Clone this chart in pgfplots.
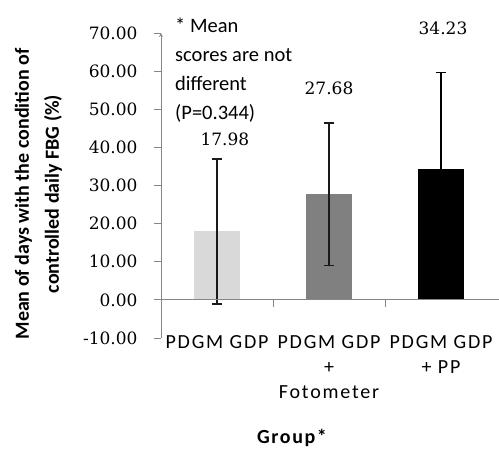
\documentclass[border=0pt]{standalone}
\usepackage{fontspec}
\setmainfont{Carlito}
\newfontfamily\numfont{DejaVu Serif}
\usepackage{pgfplots}
\pgfplotsset{compat=1.18}
\definecolor{axgray}{HTML}{868686}
\definecolor{bar1}{HTML}{D9D9D9}
\definecolor{bar2}{HTML}{808080}
\definecolor{errc}{HTML}{1A1A1A}
\begin{document}
\begin{tikzpicture}
\useasboundingbox (-161pt,-112pt) rectangle (338pt,338pt);
\begin{axis}[
  at={(0,0)}, anchor=south west,
  scale only axis, width=336pt, height=305pt,
  xmin=-0.5, xmax=2.5, ymin=-10, ymax=70,
  clip=false,
  axis lines=left,
  axis line style={axgray, line width=0.8pt},
  x axis line style={draw=none},
  xtick={0,1,2},
  xticklabels={{PDGM GDP},{PDGM GDP\\+\\Fotometer},{PDGM GDP\\+ PP}},
  xtick style={draw=none},
  xticklabel style={align=center, font=\fontsize{20}{25}\selectfont\addfontfeature{LetterSpace=9}, anchor=north, yshift=13pt},
  ytick={-10,0,10,20,30,40,50,60,70},
  tick align=outside,
  major tick length=7pt,
  ytick style={axgray, line width=0.8pt},
  yticklabel style={font=\numfont\fontsize{17}{20}\selectfont, /pgf/number format/fixed, /pgf/number format/fixed zerofill, /pgf/number format/precision=2, xshift=-13pt},
  /pgf/number format/assume math mode=true,
  xlabel={Group*},
  xlabel style={at={(rel axis cs:0.39,0)}, anchor=center, yshift=-100pt, font=\bfseries\fontsize{20}{24}\selectfont\addfontfeature{LetterSpace=8}},
  ylabel={Mean of days with the condition of\\controlled daily FBG (\%)},
  ylabel style={at={(rel axis cs:-0.365,0.472)}, anchor=center, align=center, font=\bfseries\fontsize{20}{30}\selectfont},
  ybar, bar width=46pt, bar shift=0pt,
  error bars/error bar style={errc, line width=1.5pt},
  error bars/error mark options={rotate=90, mark size=5pt, errc, line width=1.5pt},
]
\addplot[fill=bar1, draw=none, error bars/.cd, y dir=both, y explicit] coordinates {(0,17.98) +- (0,19.0)};
\addplot[fill=bar2, draw=none, error bars/.cd, y dir=both, y explicit] coordinates {(1,27.68) +- (0,18.7)};
\addplot[fill=black, draw=none, error bars/.cd, y dir=both, y explicit, error bar style={black, line width=1.5pt}, error mark options={rotate=90, mark size=5pt, black, line width=1.5pt}] coordinates {(2,34.23) +- (0,25.4)};
\draw[axgray, line width=0.8pt] (axis cs:-0.5,0) -- (axis cs:2.53,0);
\draw[axgray, line width=0.8pt] (axis cs:0.5,0) -- ([yshift=-7pt]axis cs:0.5,0);
\draw[axgray, line width=0.8pt] (axis cs:1.5,0) -- ([yshift=-7pt]axis cs:1.5,0);
\node[font=\numfont\fontsize{17}{20}\selectfont] at (axis cs:0.071,42.2) {17.98};
\node[font=\numfont\fontsize{17}{20}\selectfont] at (axis cs:1.0,55.6) {27.68};
\node[font=\numfont\fontsize{17}{20}\selectfont] at (axis cs:2.018,71.1) {34.23};
\node[anchor=north west, inner sep=0pt, align=left, font=\fontsize{20.5}{29}\selectfont] at (axis cs:-0.375,74.0) {* Mean\\scores are not\\different\\(P=0.344)};
\end{axis}
\end{tikzpicture}
\end{document}
